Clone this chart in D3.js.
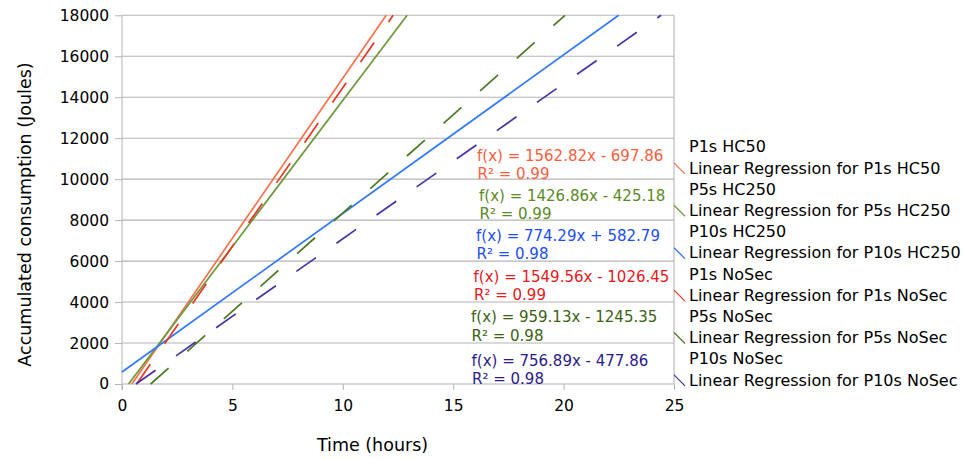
<!DOCTYPE html>
<html><head><meta charset="utf-8">
<script src="https://cdn.jsdelivr.net/npm/d3@7"></script>
<style>
body{margin:0;background:#fff}
svg{display:block}
text{font-family:"DejaVu Sans",sans-serif;fill:#000}
</style>
</head><body>
<svg id="c" width="963" height="459"></svg>
<script>
// ---- data ----
const seriesNames = ["P1s HC50","P5s HC250","P10s HC250","P1s NoSec","P5s NoSec","P10s NoSec"];
const slopes      = [1562.82, 1426.86, 774.29, 1549.56, 959.13, 756.89];
const intercepts  = [-697.86, -425.18, 582.79, -1026.45, -1245.35, -477.86];
const rSquared    = [0.99, 0.99, 0.98, 0.99, 0.98, 0.98];
const xTicks = [0,5,10,15,20,25];
const yTicks = [0,2000,4000,6000,8000,10000,12000,14000,16000,18000];
const xTitle = "Time (hours)";
const yTitle = "Accumulated consumption (Joules)";

// ---- styles / layout ----
const lineColors = ["#f8714c","#6a9a3a","#2f78ff","#ec3524","#4a7a22","#4a30a6"];
const eqColors   = ["#ff5c3c","#5b8a24","#1a4eff","#e8181c","#3c6214","#2c1a8a"];
const dashedStyle = [false,false,false,true,true,true];
const eqLayout = [[477,160.7],[479,201],[476,240.7],[473.5,281.7],[471,322.3],[471.5,365.7]];

const svg = d3.select("#c");
const x = d3.scaleLinear().domain([0,25]).range([122,674]);
const y = d3.scaleLinear().domain([0,18000]).range([384,15.3]);

// gridlines
svg.append("g").selectAll("line").data(yTicks).join("line")
  .attr("x1",x(0)).attr("x2",x(25))
  .attr("y1",d=>y(d)).attr("y2",d=>y(d))
  .attr("stroke","#b4b4b4").attr("stroke-width",1.1);

// y axis
const yAxis = svg.append("g").attr("transform",`translate(${x(0)},0)`)
  .call(d3.axisLeft(y).tickValues(yTicks).tickSize(7).tickPadding(6).tickFormat(d3.format("d")));
yAxis.select(".domain").attr("stroke","#b4b4b4").attr("d",`M0,${y(18000)}V${y(0)+6}`);
yAxis.selectAll(".tick line").attr("stroke","#b4b4b4");
yAxis.selectAll("text").attr("font-size","15.5px").attr("font-family","DejaVu Sans").attr("fill","#000");

// x axis
const xAxis = svg.append("g").attr("transform",`translate(0,${y(0)})`)
  .call(d3.axisBottom(x).tickValues(xTicks).tickSize(6).tickPadding(6));
xAxis.select(".domain").remove();
xAxis.selectAll(".tick line").attr("stroke","#b4b4b4");
xAxis.selectAll("text").attr("font-size","15.5px").attr("font-family","DejaVu Sans").attr("fill","#000").attr("dy","0.95em");

// right border
svg.append("line").attr("x1",x(25)).attr("x2",x(25)).attr("y1",y(18000)).attr("y2",y(0))
  .attr("stroke","#b4b4b4").attr("stroke-width",1.1);

// regression lines
const reg = seriesNames.map((n,i)=>{
  const m = slopes[i], b = intercepts[i];
  const x0 = Math.max(0, -b/m), x1 = Math.min(25, (18000-b)/m);
  return {i, pts:[[x0, m*x0+b],[x1, m*x1+b]]};
});
svg.append("g").selectAll("path").data(reg).join("path")
  .attr("d",d=>d3.line().x(p=>x(p[0])).y(p=>y(p[1]))(d.pts))
  .attr("fill","none")
  .attr("stroke",d=>lineColors[d.i])
  .attr("stroke-width",1.7)
  .attr("stroke-dasharray",d=>dashedStyle[d.i]?"24,25":null);

// equations
const fmt = (m,b)=>`f(x) = ${m.toFixed(2)}x ${b<0?"-":"+"} ${Math.abs(b).toFixed(2)}`;
const eq = svg.append("g");
seriesNames.forEach((n,i)=>{
  eq.append("text").attr("x",eqLayout[i][0]).attr("y",eqLayout[i][1])
    .attr("font-size","15px").style("fill",eqColors[i]).text(fmt(slopes[i],intercepts[i]));
  eq.append("text").attr("x",eqLayout[i][0]+0.5).attr("y",eqLayout[i][1]+18.3)
    .attr("font-size","15px").style("fill",eqColors[i]).text(`R² = ${rSquared[i].toFixed(2)}`);
});

// legend
const legendItems = [];
seriesNames.forEach((n,i)=>{
  legendItems.push({label:n, sym:false, i});
  legendItems.push({label:"Linear Regression for "+n, sym:true, i});
});
const lg = svg.append("g");
legendItems.forEach((d,k)=>{
  const cy = 146.7 + k*21.2;
  lg.append("text").attr("x",689).attr("y",cy).attr("dy","0.36em")
    .attr("font-size","16px").text(d.label);
  if(d.sym){
    lg.append("line").attr("x1",674).attr("y1",cy-5).attr("x2",685).attr("y2",cy+6)
      .attr("stroke",lineColors[d.i]).attr("stroke-width",1.3);
  }
});

// axis titles
svg.append("text").attr("x",372.5).attr("y",451).attr("text-anchor","middle")
  .attr("font-size","17.5px").text(xTitle);
svg.append("text").attr("transform","translate(31,214.5) rotate(-90)").attr("text-anchor","middle")
  .attr("font-size","17.5px").text(yTitle);
</script>
</body></html>
